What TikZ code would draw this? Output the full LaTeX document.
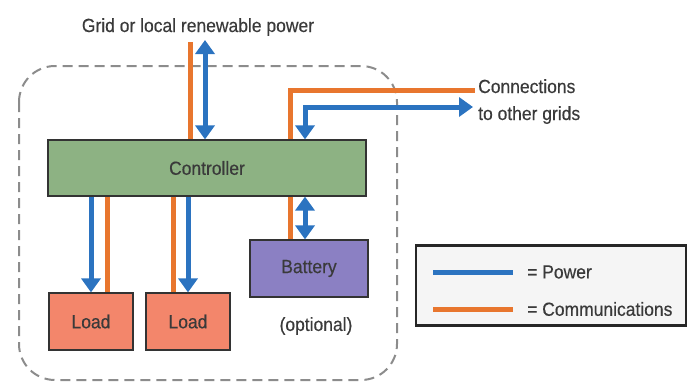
\documentclass[tikz,border=0pt]{standalone}
\usepackage{fontspec}
\setmainfont{Liberation Sans}[FakeStretch=0.92,FakeBold=0.4]
\usetikzlibrary{arrows.meta,calc}
\definecolor{pw}{HTML}{2B73C0}
\definecolor{cm}{HTML}{E8762E}
\definecolor{ctrlfill}{HTML}{8DB283}
\definecolor{loadfill}{HTML}{F3866B}
\definecolor{batfill}{HTML}{8B80C3}
\definecolor{txt}{HTML}{3A3A3A}
\definecolor{dashc}{HTML}{8C8C8C}
\begin{document}
\begin{tikzpicture}[x=1pt,y=-1pt,
  lbl/.style={font=\fontsize{19}{27}\selectfont, text=txt},
  box/.style={draw=black!80, line width=1.2pt, lbl, inner sep=0pt},
  powerline/.style={draw=pw, line width=5pt},
  commline/.style={draw=cm, line width=5pt},
  tip/.style={-{Triangle[width=19pt,length=14pt]}},
  tips/.style={{Triangle[width=19pt,length=14pt]}-{Triangle[width=19pt,length=14pt]}}
]
\useasboundingbox (0,0) rectangle (689,383);
% dashed boundary
\draw[dashc, line width=2pt, dash pattern=on 10pt off 6pt, rounded corners=36pt] (19,66) rectangle (397,380);

% nodes
\node[lbl, anchor=base] (title) at (198,32) {Grid or local renewable power};
\node[box, fill=ctrlfill, minimum width=318pt, minimum height=56pt] (ctrl) at (207,168) {Controller};
\node[box, fill=loadfill, minimum width=84pt, minimum height=57pt] (load1) at (91,321.5) {Load};
\node[box, fill=loadfill, minimum width=84pt, minimum height=57pt] (load2) at (188,321.5) {Load};
\node[box, fill=batfill, minimum width=118pt, minimum height=57pt] (bat) at (309,268.5) {Battery};
\node[lbl] (opt) at (316,326) {(optional)};
\node[lbl, anchor=base west, align=left, inner sep=0pt] (conn) at (478,120) {Connections\\to other grids};

% top connections
\coordinate (gc) at (190,42);
\coordinate (gp) at (205,40);
\draw[commline] (gc) -- (gc |- ctrl.north);
\draw[powerline, tips] (gp) -- (gp |- ctrl.north);

% other grids
\coordinate (oc) at (475,90);
\coordinate (op) at (473,107);
\coordinate (ocx) at (290,0);
\coordinate (opx) at (305,0);
\draw[commline] (ocx |- ctrl.north) |- (oc);
\draw[powerline, tips] (opx |- ctrl.north) |- (op);

% loads
\coordinate (l1p) at (91,0);
\coordinate (l1c) at (107,0);
\coordinate (l2c) at (173,0);
\coordinate (l2p) at (188,0);
\draw[powerline, tip] (l1p |- ctrl.south) -- (l1p |- load1.north);
\draw[commline] (l1c |- ctrl.south) -- (l1c |- load1.north);
\draw[commline] (l2c |- ctrl.south) -- (l2c |- load2.north);
\draw[powerline, tip] (l2p |- ctrl.south) -- (l2p |- load2.north);

% battery
\draw[commline] (ocx |- ctrl.south) -- (ocx |- bat.north);
\draw[powerline, tips] (opx |- ctrl.south) -- (opx |- bat.north);

% legend
\node[draw=black!85, line width=2.5pt, fill=black!4, minimum width=270pt, minimum height=80pt] (leg) at (551,285.5) {};
\coordinate (la) at (433,272);
\coordinate (lb) at (513,272);
\coordinate (lc) at (433,309);
\coordinate (ld) at (513,309);
\draw[powerline] (la) -- (lb);
\draw[commline] (lc) -- (ld);
\node[lbl, anchor=west, inner sep=0pt] (lp) at (527,272) {= Power};
\node[lbl, anchor=west, inner sep=0pt] (lcm) at (527,309) {= Communications};
\end{tikzpicture}
\end{document}
